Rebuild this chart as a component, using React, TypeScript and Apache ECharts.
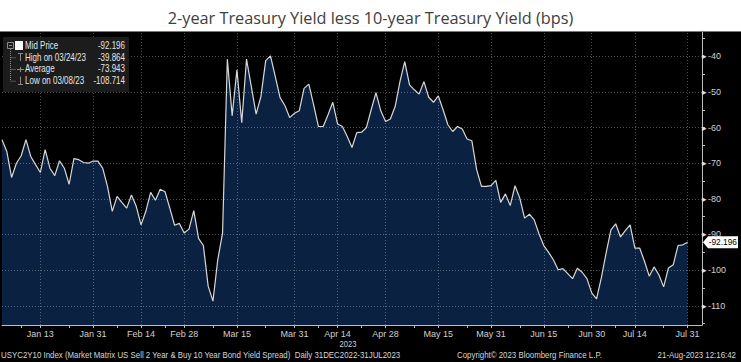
import React, { useEffect, useRef } from "react";
import * as echarts from "echarts";

const TITLE = "2-year Treasury Yield less 10-year Treasury Yield (bps)";
const START_DATE = "2023-01-03";
const END_DATE = "2023-08-03";
const HOLIDAYS = ["2023-01-16", "2023-02-20", "2023-04-07", "2023-05-29", "2023-06-19", "2023-07-04"];
const MONTHS = ["Jan", "Feb", "Mar", "Apr", "May", "Jun", "Jul", "Aug", "Sep", "Oct", "Nov", "Dec"];
const LABEL_DATES = ["Jan 13", "Jan 31", "Feb 14", "Feb 28", "Mar 15", "Mar 31", "Apr 14", "Apr 28", "May 15", "May 31", "Jun 15", "Jun 30", "Jul 14", "Jul 31"];

// USYC2Y10 daily mid price (bps), trading days from Jan 3 to Jul 31 2023
const SPREAD = [
  -63.4, -66.7, -74.0, -70.0, -67.9, -63.4, -68.1, -70.4, -72.6, -66.2,
  -71.4, -73.5, -69.3, -71.4, -75.9, -68.7, -69.0, -69.8, -70.0, -69.4,
  -69.4, -71.4, -76.5, -83.5, -79.3, -81.0, -82.6, -78.9, -82.1, -87.3,
  -83.5, -78.2, -80.4, -77.3, -78.0, -82.6, -87.4, -86.9, -89.6, -88.5,
  -83.3, -91.1, -93.1, -104.5, -108.714, -97.1, -89.6, -40.8, -56.7, -43.8,
  -58.6, -40.8, -48.5, -56.2, -51.3, -41.2, -39.864, -45.7, -51.6, -53.8,
  -57.2, -56.0, -55.3, -49.0, -47.8, -53.6, -59.7, -59.7, -56.4, -52.9,
  -59.0, -59.7, -62.5, -65.6, -61.4, -61.3, -60.0, -55.0, -50.2, -55.3,
  -58.3, -57.6, -54.1, -47.1, -41.5, -48.0, -49.4, -50.6, -47.1, -51.5,
  -52.9, -51.1, -55.0, -59.2, -61.1, -59.7, -60.4, -63.2, -63.7, -71.8,
  -76.5, -76.5, -76.3, -74.8, -81.0, -78.6, -81.9, -76.3, -79.8, -85.4,
  -84.3, -85.9, -89.8, -93.1, -95.0, -97.1, -99.9, -99.6, -101.0, -102.4,
  -99.5, -100.6, -102.4, -106.4, -108.1, -102.2, -95.2, -88.7, -87.0, -90.7,
  -88.9, -87.3, -93.8, -93.8, -97.5, -101.7, -99.1, -101.3, -104.7, -99.4,
  -98.5, -93.1, -92.9, -92.196,
];

const Y_LABELS = [-40, -50, -60, -70, -80, -90, -100, -110];
const Y_TICKS = [-35, -40, -45, -50, -55, -60, -65, -70, -75, -80, -85, -90, -95, -100, -105, -110, -115];
const Y_MIN = -115.4;
const Y_MAX = -32.9;

const LEGEND_ROWS = [
  ["Mid Price", "-92.196"],
  ["High on 03/24/23", "-39.864"],
  ["Average", "-73.943"],
  ["Low on 03/08/23", "-108.714"],
];
const LAST_VALUE_TEXT = "-92.196";
const YEAR_LABEL = "2023";
const FOOTER_LEFT = "USYC2Y10 Index (Market Matrix US Sell 2 Year & Buy 10 Year Bond Yield Spread)  Daily 31DEC2022-31JUL2023";
const FOOTER_MID = "Copyright\u00A9 2023 Bloomberg Finance L.P.";
const FOOTER_RIGHT = "21-Aug-2023 12:16:42";

const FONT = "'Liberation Sans', Arial, sans-serif";
const SQUEEZE = 0.83;

function tradingDays(): string[] {
  const out: string[] = [];
  const d = new Date(START_DATE + "T00:00:00Z");
  const end = new Date(END_DATE + "T00:00:00Z");
  while (d <= end) {
    const iso = d.toISOString().slice(0, 10);
    const wd = d.getUTCDay();
    if (wd !== 0 && wd !== 6 && !HOLIDAYS.includes(iso)) {
      out.push(`${MONTHS[d.getUTCMonth()]} ${d.getUTCDate()}`);
    }
    d.setUTCDate(d.getUTCDate() + 1);
  }
  return out;
}

function txt(id: string, x: number, y: number, text: string, align: string, opts: any = {}): any {
  return {
    type: "text", id, x, y, scaleX: opts.scaleX ?? SQUEEZE, z: opts.z ?? 12,
    style: {
      text, fill: opts.fill ?? "#d6d6d6", font: `${opts.size ?? 9.5}px ${FONT}`,
      textAlign: align, textVerticalAlign: "middle",
    },
  };
}

function legendGraphics(): any[] {
  const rowsY = [45.5, 57.3, 69, 80.7];
  const gray = "#8a8a8a";
  const els: any[] = [
    { type: "rect", id: "lg-bg", shape: { x: 3, y: 37, width: 126, height: 55 }, style: { fill: "#1c1c1c" }, z: 10 },
    { type: "rect", id: "lg-box", shape: { x: 7.5, y: 42.5, width: 6, height: 6 }, style: { fill: "none", stroke: gray, lineWidth: 1 }, z: 11 },
    { type: "line", id: "lg-minus", shape: { x1: 9, y1: 45.5, x2: 12, y2: 45.5 }, style: { stroke: gray, lineWidth: 1 }, z: 11 },
    { type: "rect", id: "lg-sq", shape: { x: 15, y: 41, width: 8, height: 9 }, style: { fill: "#ffffff" }, z: 11 },
    { type: "line", id: "lg-tree", shape: { x1: 10.5, y1: 49, x2: 10.5, y2: 80.7 }, style: { stroke: gray, lineWidth: 1, lineDash: [1, 1] }, z: 11 },
    { type: "line", id: "lg-t-v", shape: { x1: 20.5, y1: 53, x2: 20.5, y2: 61 }, style: { stroke: gray, lineWidth: 1 }, z: 11 },
    { type: "line", id: "lg-t-h", shape: { x1: 18, y1: 53.5, x2: 23, y2: 53.5 }, style: { stroke: gray, lineWidth: 1 }, z: 11 },
    { type: "line", id: "lg-p-h", shape: { x1: 17, y1: 69.5, x2: 24, y2: 69.5 }, style: { stroke: gray, lineWidth: 1 }, z: 11 },
    { type: "line", id: "lg-p-v", shape: { x1: 20.5, y1: 67, x2: 20.5, y2: 72 }, style: { stroke: gray, lineWidth: 1 }, z: 11 },
    { type: "line", id: "lg-b-v", shape: { x1: 20.5, y1: 76.5, x2: 20.5, y2: 84 }, style: { stroke: gray, lineWidth: 1 }, z: 11 },
    { type: "line", id: "lg-b-h", shape: { x1: 18, y1: 84.5, x2: 23, y2: 84.5 }, style: { stroke: gray, lineWidth: 1 }, z: 11 },
  ];
  rowsY.slice(1).forEach((y, i) => {
    els.push({ type: "line", id: "lg-con" + i, shape: { x1: 10.5, y1: y + 0.5, x2: 16, y2: y + 0.5 }, style: { stroke: gray, lineWidth: 1, lineDash: [1, 1] }, z: 11 });
  });
  LEGEND_ROWS.forEach((row, i) => {
    els.push(txt("lg-l" + i, 25, rowsY[i], row[0], "left", { size: 10, scaleX: 0.8, fill: "#e6e6e6" }));
    els.push(txt("lg-r" + i, 125, rowsY[i], row[1], "right", { size: 10, scaleX: 0.8, fill: "#e6e6e6" }));
  });
  return els;
}

function baseGraphics(): any[] {
  return [
    { type: "line", id: "topline", shape: { x1: 0, y1: 31.5, x2: 741, y2: 31.5 }, style: { stroke: "#7a7a7a", lineWidth: 1 }, z: 5 },
    ...legendGraphics(),
    txt("year", 348, 344, YEAR_LABEL, "center", { fill: "#d0d0d0", scaleX: 0.8 }),
    txt("f-l", 1, 355, FOOTER_LEFT, "left"),
    txt("f-m", 457, 355, FOOTER_MID, "left"),
    txt("f-r", 736, 355, FOOTER_RIGHT, "right"),
  ];
}

export default function App() {
  const ref = useRef<HTMLDivElement>(null);

  useEffect(() => {
    if (!ref.current) return;
    const chart = echarts.init(ref.current, null, { renderer: "svg" });
    const cats = tradingDays();
    const labelSet = new Set(LABEL_DATES);
    const labelIdx = LABEL_DATES.map((d) => cats.indexOf(d));
    const tickIdx = new Set<number>(labelIdx);
    for (let k = 0; k < labelIdx.length - 1; k++) tickIdx.add(Math.round((labelIdx[k] + labelIdx[k + 1]) / 2));
    tickIdx.add(Math.round(labelIdx[0] / 2));

    const gridLineData: any[] = [
      ...Y_LABELS.map((v) => ({ yAxis: v })),
      ...LABEL_DATES.map((d) => ({ xAxis: d })),
    ];

    const option: any = {
      animation: false,
      backgroundColor: "transparent",
      title: {
        text: TITLE,
        left: "center",
        top: 5,
        textStyle: { fontFamily: "'Open Sans', sans-serif", fontSize: 16.3, fontWeight: "normal", color: "#404040" },
      },
      grid: { left: 2, right: 39, top: 31, bottom: 37, containLabel: false },
      xAxis: {
        type: "category",
        data: cats,
        boundaryGap: false,
        axisLine: { show: true, lineStyle: { color: "#bdbdbd", width: 1 } },
        axisTick: { show: true, length: 3, interval: (i: number) => tickIdx.has(i), lineStyle: { color: "#bdbdbd" } },
        axisLabel: {
          show: true,
          interval: (_i: number, v: string) => labelSet.has(v),
          color: "#d0d0d0",
          fontSize: 9,
          fontFamily: FONT,
          margin: 4,
          hideOverlap: false,
        },
        splitLine: { show: false },
      },
      yAxis: {
        type: "value",
        position: "right",
        min: Y_MIN,
        max: Y_MAX,
        axisLine: { show: true, lineStyle: { color: "#bdbdbd", width: 1 } },
        axisTick: { show: true, length: 3, customValues: Y_TICKS, lineStyle: { color: "#bdbdbd" } },
        axisLabel: {
          show: true,
          customValues: Y_LABELS,
          margin: 0,
          formatter: (v: number) => `{t|\u25B8}{v|${v}}`,
          rich: {
            t: { color: "#e0e0e0", fontSize: 9, padding: [0, 1, 0, 0] },
            v: { color: "#d0d0d0", fontSize: 9, fontFamily: FONT },
          },
        },
        splitLine: { show: false },
      },
      series: [
        {
          type: "line",
          data: SPREAD,
          symbol: "none",
          showSymbol: false,
          lineStyle: { color: "#d8d8d8", width: 1.2 },
          areaStyle: { color: "#0b2142", opacity: 1, origin: "start" },
          markLine: {
            silent: true,
            symbol: ["none", "none"],
            label: { show: false },
            lineStyle: { color: "rgba(255,255,255,0.3)", type: [1, 2], width: 1 },
            emphasis: { disabled: true },
            data: gridLineData,
          },
        },
      ],
      graphic: baseGraphics(),
    };
    chart.setOption(option);

    const last = SPREAD[SPREAD.length - 1];
    const yPix = chart.convertToPixel({ yAxisIndex: 0 }, last) as number;
    const xAxisPix = chart.convertToPixel({ xAxisIndex: 0 }, cats[cats.length - 1]) as number;
    const x0 = xAxisPix + 1;
    const tag = [
      {
        type: "polygon", id: "tag-bg",
        shape: { points: [[x0, yPix], [x0 + 5, yPix - 6], [x0 + 35, yPix - 6], [x0 + 35, yPix + 6], [x0 + 5, yPix + 6]] },
        style: { fill: "#ffffff" }, z: 20,
      },
      txt("tag-text", x0 + 34, yPix, LAST_VALUE_TEXT, "right", { fill: "#000000", scaleX: 0.88, z: 21 }),
    ];
    chart.setOption({ graphic: [...baseGraphics(), ...tag] });

    return () => chart.dispose();
  }, []);

  return (
    <div style={{ position: "fixed", left: 0, top: 0, width: 741, height: 362, background: "#ffffff" }}>
      <div style={{ position: "absolute", left: 0, top: 31, width: 741, height: 331, background: "#000000" }} />
      <div ref={ref} style={{ position: "absolute", left: 0, top: 0, width: 741, height: 362 }} />
    </div>
  );
}
